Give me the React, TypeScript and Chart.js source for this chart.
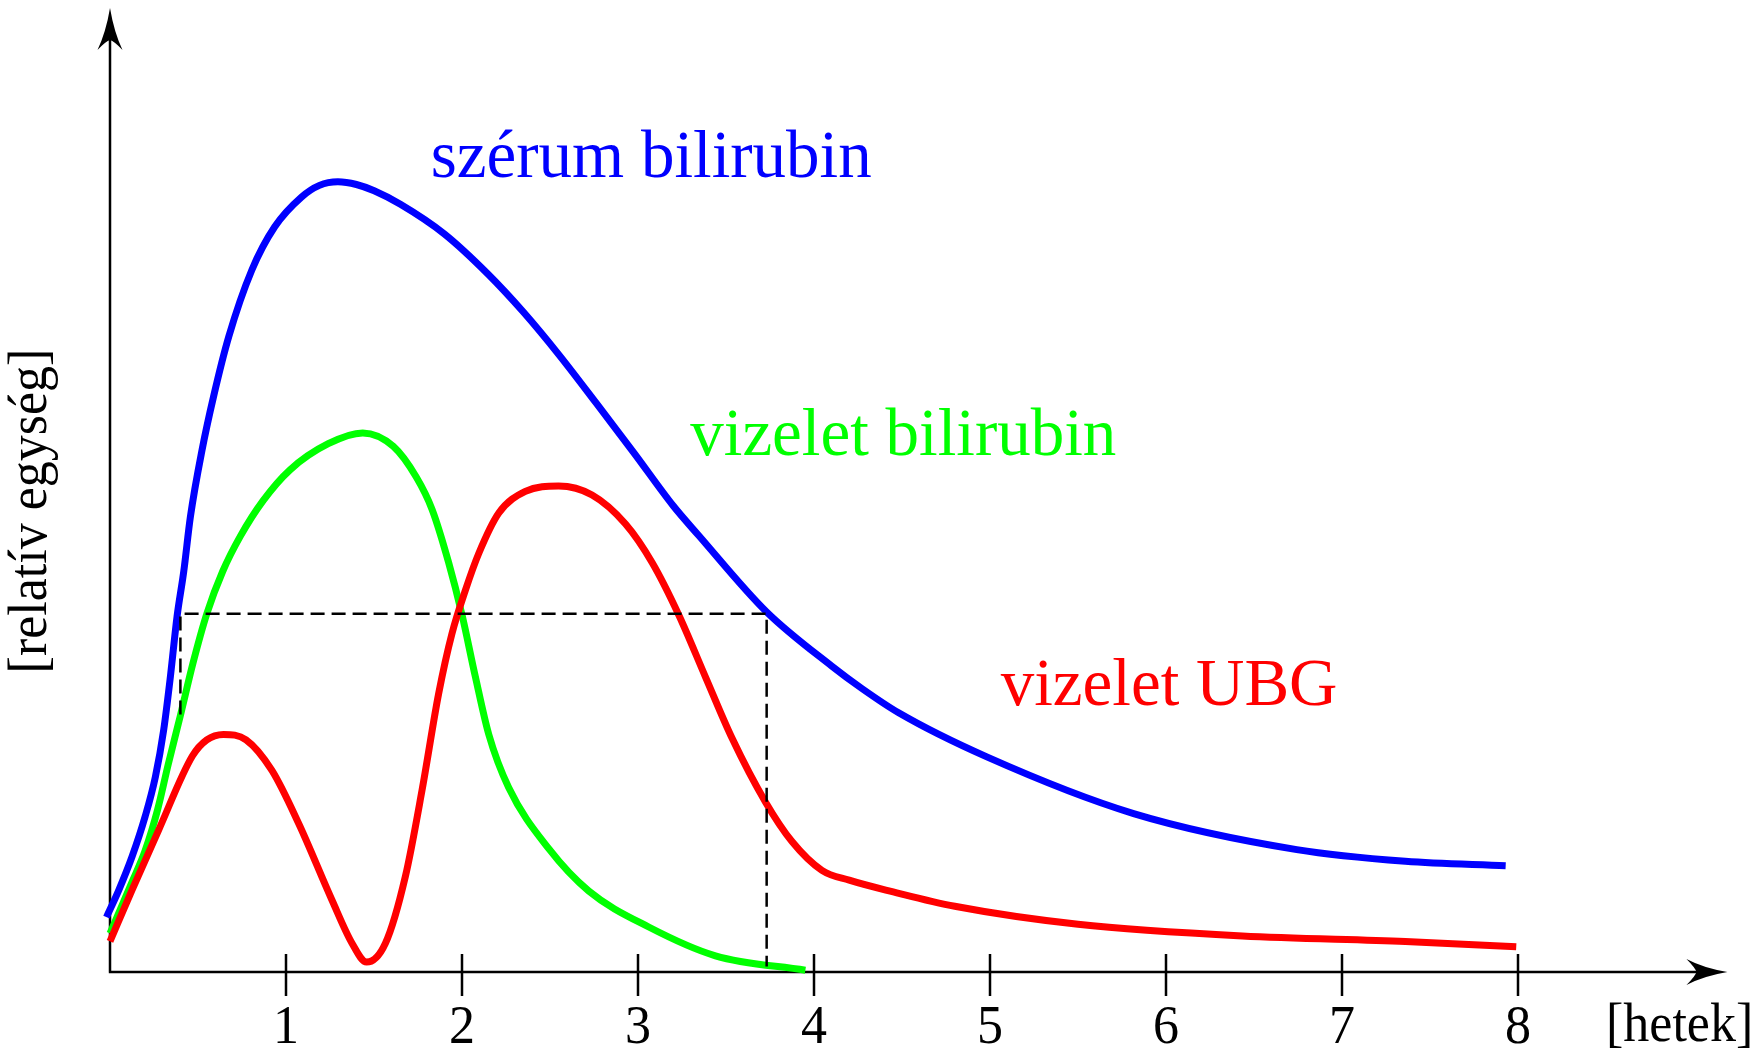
import React, { useEffect, useRef } from "react";
import { Chart, registerables } from "chart.js";

Chart.register(...registerables);

// x: weeks ("hetek"), y: relative units (0..100)
const xTicks = [1, 2, 3, 4, 5, 6, 7, 8];
const xTickLabels = ["1", "2", "3", "4", "5", "6", "7", "8"];

const serumX = [-0.02, 0.05, 0.125, 0.2, 0.258, 0.305, 0.343, 0.381, 0.419, 0.457, 0.523, 0.588, 0.675, 0.806, 0.936, 1.088, 1.19, 1.295, 1.4, 1.501, 1.65, 1.9, 2.15, 2.35, 2.55, 2.763, 2.98, 3.2, 3.345, 3.731, 4.1, 4.272, 4.481, 4.982, 5.816, 6.743, 7.36, 7.93];
const serumY = [6.1, 9.1, 12.8, 17.3, 21.7, 26.9, 32.8, 39.5, 44.5, 50.6, 58, 63.9, 70.6, 78, 82.8, 86.1, 87.4, 87.8, 87.5, 86.8, 85.3, 82.0, 77.5, 73.3, 68.6, 63.2, 57.6, 51.8, 48.5, 40, 34, 31.5, 28.8, 23.9, 17.6, 13.6, 12.3, 11.8];

const urineBiliX = [0, 0.123, 0.2, 0.27, 0.33, 0.4, 0.47, 0.55, 0.64, 0.74, 0.871, 1.023, 1.24, 1.436, 1.61, 1.74, 1.83, 1.924, 2.0, 2.076, 2.152, 2.265, 2.493, 2.72, 3.061, 3.44, 3.951];
const urineBiliY = [4.3, 9.9, 13.5, 18, 23, 28.5, 34.2, 39.8, 44.5, 48.4, 52.4, 55.8, 58.7, 59.9, 58.4, 55, 51.4, 45.5, 39.7, 32.8, 26.4, 20.5, 13.7, 9, 5, 1.8, 0.2];

const ubgX = [0, 0.125, 0.277, 0.468, 0.55, 0.645, 0.773, 0.92, 1.072, 1.261, 1.375, 1.458, 1.565, 1.678, 1.773, 1.868, 1.943, 2.019, 2.095, 2.209, 2.36, 2.549, 2.739, 2.928, 3.08, 3.231, 3.383, 3.534, 3.724, 3.875, 4.045, 4.2, 4.45, 4.8, 5.5, 6.434, 7.36, 7.99];
const ubgY = [3.4, 9.1, 15.8, 24, 25.8, 26.4, 25.8, 22.4, 16.5, 8, 3.2, 1.1, 3.2, 10.6, 20.2, 31, 37.6, 42.4, 46.5, 51, 53.4, 54, 53, 49.8, 45.5, 39.7, 32.8, 26, 18.9, 14.5, 11.3, 10.2, 8.9, 7.3, 5.3, 4.0, 3.4, 2.8];

const guideX = [0.4, 0.4, 3.731, 3.731];
const guideY = [28.6, 39.8, 39.8, 0.6];

const seriesLabels = ["szérum bilirubin", "vizelet bilirubin", "vizelet UBG"];
const seriesColors = ["#0000ff", "#00ff00", "#ff0000"];
const seriesLabelX = [1.822, 3.297, 5.061];
const seriesLabelY = [88.3, 57.4, 29.7];

const xAxisTitle = "[hetek]";
const yAxisTitle = "[relatív egység]";
const X_ARROW_TIP = 9.19;
const Y_ARROW_TIP = 107.1;

const pts = (xs: number[], ys: number[]) => xs.map((x, i) => ({ x, y: ys[i] }));

const overlay = {
  id: "overlay",
  beforeDatasetsDraw(chart: any) {
    const { ctx, scales } = chart;
    const xs = scales.x;
    const ys = scales.y;
    const x0 = xs.getPixelForValue(0);
    const y0 = ys.getPixelForValue(0);
    const xt = xs.getPixelForValue(X_ARROW_TIP);
    const yt = ys.getPixelForValue(Y_ARROW_TIP);
    ctx.save();
    ctx.strokeStyle = "#000";
    ctx.fillStyle = "#000";
    ctx.lineWidth = 2.5;
    ctx.lineCap = "butt";
    ctx.beginPath();
    ctx.moveTo(x0, y0);
    ctx.lineTo(x0, yt + 20);
    ctx.moveTo(x0 - 1.2, y0);
    ctx.lineTo(xt - 20, y0);
    ctx.stroke();
    // y arrow
    ctx.beginPath();
    ctx.moveTo(x0, yt);
    ctx.quadraticCurveTo(x0 - 4, yt + 24, x0 - 12.5, yt + 42);
    ctx.quadraticCurveTo(x0 - 4, yt + 33, x0, yt + 32);
    ctx.quadraticCurveTo(x0 + 4, yt + 33, x0 + 12.5, yt + 42);
    ctx.quadraticCurveTo(x0 + 4, yt + 24, x0, yt);
    ctx.closePath();
    ctx.fill();
    // x arrow
    ctx.beginPath();
    ctx.moveTo(xt, y0);
    ctx.quadraticCurveTo(xt - 24, y0 - 4, xt - 41, y0 - 13);
    ctx.quadraticCurveTo(xt - 32, y0 - 4, xt - 31, y0);
    ctx.quadraticCurveTo(xt - 32, y0 + 4, xt - 41, y0 + 13);
    ctx.quadraticCurveTo(xt - 24, y0 + 4, xt, y0);
    ctx.closePath();
    ctx.fill();
    // ticks
    ctx.beginPath();
    xTicks.forEach((t) => {
      const px = xs.getPixelForValue(t);
      ctx.moveTo(px, y0 - 18);
      ctx.lineTo(px, y0 + 24);
    });
    ctx.stroke();
    ctx.restore();
  },
  afterDatasetsDraw(chart: any) {
    const { ctx, scales } = chart;
    const xs = scales.x;
    const ys = scales.y;
    const y0 = ys.getPixelForValue(0);
    const stretch = 1.06;
    ctx.save();
    ctx.fillStyle = "#000";
    ctx.font = '52px "Liberation Serif"';
    ctx.textBaseline = "alphabetic";
    ctx.textAlign = "center";
    xTicks.forEach((t, i) => {
      ctx.save();
      ctx.translate(xs.getPixelForValue(t), y0 + 71);
      ctx.scale(1, stretch);
      ctx.fillText(xTickLabels[i], 0, 0);
      ctx.restore();
    });
    // x title
    ctx.save();
    ctx.textAlign = "left";
    ctx.translate(1606, y0 + 69);
    ctx.scale(1, stretch);
    ctx.fillText(xAxisTitle, 0, 0);
    ctx.restore();
    // y title
    ctx.save();
    ctx.textAlign = "center";
    ctx.translate(46, 511);
    ctx.rotate(-Math.PI / 2);
    ctx.scale(1, stretch);
    ctx.fillText(yAxisTitle, 0, 0);
    ctx.restore();
    // series labels
    ctx.font = '67px "Liberation Serif"';
    ctx.textAlign = "left";
    seriesLabels.forEach((s, i) => {
      ctx.fillStyle = seriesColors[i];
      ctx.fillText(s, xs.getPixelForValue(seriesLabelX[i]), ys.getPixelForValue(seriesLabelY[i]));
    });
    ctx.restore();
  },
};

export default function App() {
  const ref = useRef<HTMLCanvasElement | null>(null);
  useEffect(() => {
    if (!ref.current) return;
    const curve = (data: any, color: string) => ({
      data,
      borderColor: color,
      backgroundColor: color,
      borderWidth: 7,
      pointRadius: 0,
      fill: false,
      cubicInterpolationMode: "monotone" as const,
      clip: false as any,
    });
    const chart = new Chart(ref.current, {
      type: "line",
      data: {
        datasets: [
          {
            data: pts(guideX, guideY),
            borderColor: "#000",
            borderWidth: 2.5,
            borderDash: [14, 7],
            pointRadius: 0,
            tension: 0,
            fill: false,
            clip: false as any,
          },
          curve(pts(ubgX, ubgY), seriesColors[2]),
          curve(pts(serumX, serumY), seriesColors[0]),
          curve(pts(urineBiliX, urineBiliY), seriesColors[1]),
        ],
      },
      options: {
        animation: false,
        responsive: false,
        maintainAspectRatio: false,
        events: [],
        layout: { padding: { left: 110, right: 235, top: 72, bottom: 76 }, autoPadding: false },
        scales: {
          x: { type: "linear", min: 0, max: 8, display: false },
          y: { type: "linear", min: 0, max: 100, display: false },
        },
        plugins: { legend: { display: false }, tooltip: { enabled: false } },
      },
      plugins: [overlay],
    });
    return () => chart.destroy();
  }, []);
  return (
    <div style={{ position: "fixed", left: 0, top: 0, width: 1753, height: 1048, background: "#fff" }}>
      <canvas ref={ref} width={1753} height={1048} style={{ display: "block", width: 1753, height: 1048 }} />
    </div>
  );
}
